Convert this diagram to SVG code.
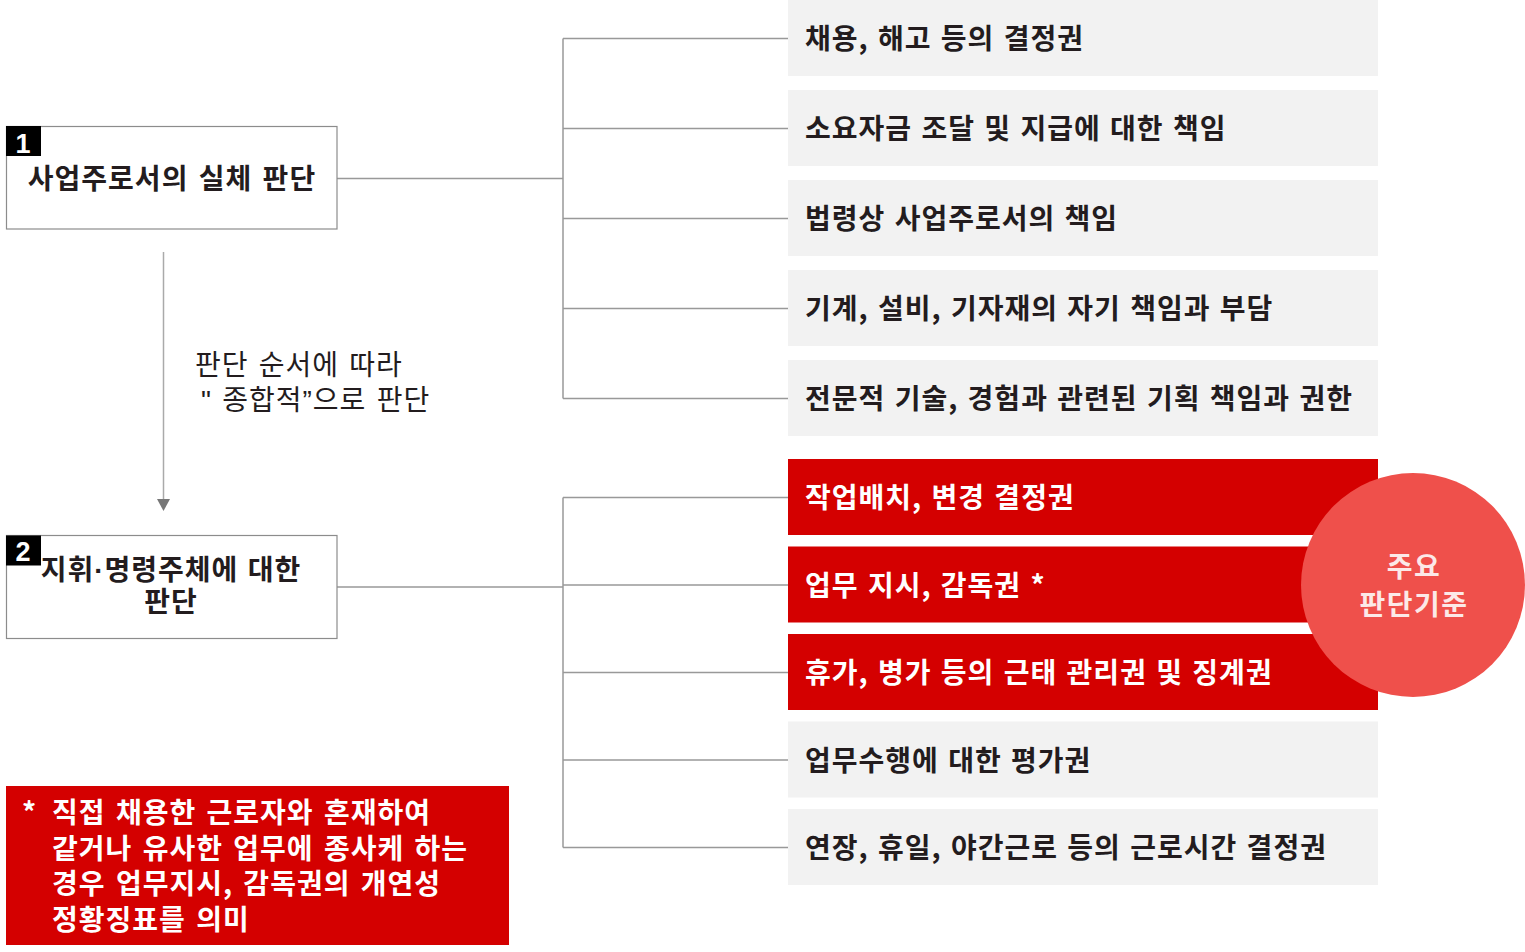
<svg xmlns="http://www.w3.org/2000/svg" width="1525" height="952" viewBox="0 0 1525 952">
<style>
  .t { font-family: "Noto Sans CJK KR", "Noto Sans", sans-serif; font-size: 28px; letter-spacing: 1px; word-spacing: 2px; }
  .b { font-weight: 700; }
  .lat { font-family: "Liberation Sans", Arial, sans-serif; }
  .dark { fill: #231c1e; }
  .white { fill: #ffffff; }
  .gbox { fill: #f2f2f2; }
  .rbox { fill: #d40000; }
  .node { fill: #ffffff; stroke: #8c8c8c; stroke-width: 1.2; }
  .badge { fill: #000000; }
  .num { font-family: "Liberation Sans", Arial, sans-serif; font-weight: 700; font-size: 27px; fill: #ffffff; }
  .conn { fill: none; stroke: #999999; stroke-width: 1.5; }
</style>
<rect width="1525" height="952" fill="#ffffff"/>

<g id="connectors">
  <path class="conn" d="M337 178.5 H563 M563 38.5 V398.5 M563 38.5 H788 M563 128.5 H788 M563 218.5 H788 M563 308.5 H788 M563 398.5 H788"/>
  <path class="conn" d="M337 587 H563 M563 497.5 V847.5 M563 497.5 H788 M563 585 H788 M563 672.5 H788 M563 760 H788 M563 847.5 H788"/>
  <line x1="163.5" y1="252" x2="163.5" y2="500" stroke="#aaaaaa" stroke-width="1.5"/>
  <polygon points="157,499 170,499 163.5,511" fill="#777777"/>
</g>

<g id="node1">
  <rect class="node" x="6.5" y="126.5" width="330.5" height="102.5"/>
  <rect class="badge" x="6" y="126" width="35" height="30"/>
  <text class="num" x="23" y="153" text-anchor="middle">1</text>
  <text class="t b dark" x="172" y="189" text-anchor="middle" style="word-spacing:3px">사업주로서의 실체 판단</text>
</g>

<g id="label-order">
  <text class="t dark" x="195" y="375" style="word-spacing:3px">판단 순서에 따라</text>
  <text class="t dark" x="201" y="410" style="word-spacing:3px"><tspan class="lat">"</tspan> 종합적<tspan class="lat">”</tspan>으로 판단</text>
</g>

<g id="node2">
  <rect class="node" x="6.5" y="535.5" width="330.5" height="103"/>
  <rect class="badge" x="6" y="535.5" width="35" height="30"/>
  <text class="num" x="23" y="561" text-anchor="middle">2</text>
  <text class="t b dark" x="171" y="580" text-anchor="middle">지휘<tspan class="lat">·</tspan>명령주체에 대한</text>
  <text class="t b dark" x="171" y="612" text-anchor="middle">판단</text>
</g>

<g id="note">
  <rect class="rbox" x="6" y="786" width="503" height="159"/>
  <text class="t b white" x="22" y="823">*</text>
  <text class="t b white" x="52" y="823" style="word-spacing:3px">직접 채용한 근로자와 혼재하여</text>
  <text class="t b white" x="52" y="858.5" style="word-spacing:3px">같거나 유사한 업무에 종사케 하는</text>
  <text class="t b white" x="52" y="894" style="word-spacing:3px">경우 업무지시, 감독권의 개연성</text>
  <text class="t b white" x="52" y="929.5" style="word-spacing:3px">정황징표를 의미</text>
</g>

<g id="item1"><rect class="gbox" x="788" y="0" width="590" height="76"/><text class="t b dark" x="805" y="49">채용, 해고 등의 결정권</text></g>
<g id="item2"><rect class="gbox" x="788" y="90" width="590" height="76"/><text class="t b dark" x="805" y="139">소요자금 조달 및 지급에 대한 책임</text></g>
<g id="item3"><rect class="gbox" x="788" y="180" width="590" height="76"/><text class="t b dark" x="805" y="229">법령상 사업주로서의 책임</text></g>
<g id="item4"><rect class="gbox" x="788" y="270" width="590" height="76"/><text class="t b dark" x="805" y="319">기계, 설비, 기자재의 자기 책임과 부담</text></g>
<g id="item5"><rect class="gbox" x="788" y="360" width="590" height="76"/><text class="t b dark" x="805" y="409">전문적 기술, 경험과 관련된 기획 책임과 권한</text></g>

<g id="item6"><rect class="rbox" x="788" y="459" width="590" height="76"/><text class="t b white" x="805" y="508">작업배치, 변경 결정권</text></g>
<g id="item7"><rect class="rbox" x="788" y="546.5" width="590" height="76"/><text class="t b white" x="805" y="595.5">업무 지시, 감독권 *</text></g>
<g id="item8"><rect class="rbox" x="788" y="634" width="590" height="76"/><text class="t b white" x="805" y="683">휴가, 병가 등의 근태 관리권 및 징계권</text></g>
<g id="item9"><rect class="gbox" x="788" y="721.5" width="590" height="76"/><text class="t b dark" x="805" y="770.5">업무수행에 대한 평가권</text></g>
<g id="item10"><rect class="gbox" x="788" y="809" width="590" height="76"/><text class="t b dark" x="805" y="858">연장, 휴일, 야간근로 등의 근로시간 결정권</text></g>

<g id="key-criteria">
  <circle cx="1413" cy="585" r="112" fill="#ef504b"/>
  <text class="t b" x="1414" y="577" text-anchor="middle" fill="#fce9e8" style="letter-spacing:1.5px">주요</text>
  <text class="t b" x="1414" y="615" text-anchor="middle" fill="#fce9e8" style="letter-spacing:1.5px">판단기준</text>
</g>
</svg>
